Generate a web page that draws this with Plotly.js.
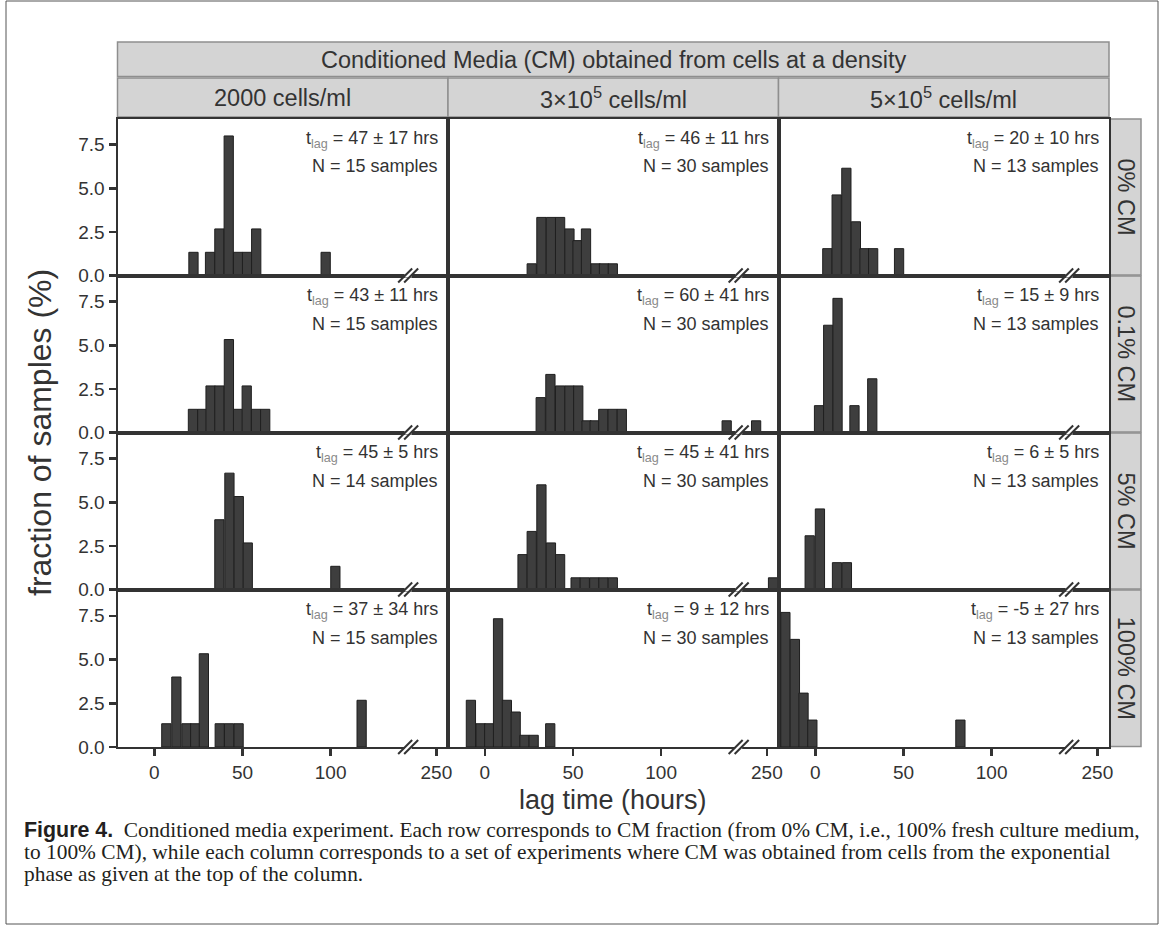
<!DOCTYPE html>
<html><head><meta charset="utf-8">
<script src="https://cdn.plot.ly/plotly-3.0.1.min.js"></script>
<style>html,body{margin:0;padding:0;background:#fff}</style>
</head><body><div id="chart" style="width:1165px;height:928px"></div>
<script>
// ---------------- data ----------------
const columnLabels = ['2000 cells/ml', '3×10<sup>5</sup> cells/ml', '5×10<sup>5</sup> cells/ml'];
const rowLabels = ['0% CM', '0.1% CM', '5% CM', '100% CM'];
const topLabel = 'Conditioned Media (CM) obtained from cells at a density';
const lagTicks = [0, 50, 100, 250];
const fracTicks = [0, 2.5, 5.0, 7.5];
const tlagText = [
  ['47 ± 17', '46 ± 11', '20 ± 10'],
  ['43 ± 11', '60 ± 41', '15 ± 9'],
  ['45 ± 5', '45 ± 41', '6 ± 5'],
  ['37 ± 34', '9 ± 12', '-5 ± 27']
];
const nSamples = [
  [15, 30, 13],
  [15, 30, 13],
  [14, 30, 13],
  [15, 30, 13]
];

// lag time bin centres (hours) and fraction of samples (%) per panel
const lag_0_2000 = [22.2, 31.6, 36.9, 42.2, 47.5, 52.6, 57.8, 97.2];
const frac_0_2000 = [1.33, 1.33, 2.67, 8.0, 1.33, 1.33, 2.67, 1.33];
const lag_0_3e5 = [26.6, 32.1, 37.5, 42.7, 48.0, 52.6, 57.4, 62.8, 67.6, 72.6];
const frac_0_3e5 = [0.67, 3.33, 3.33, 3.33, 2.67, 2.0, 2.67, 0.67, 0.67, 0.67];
const lag_0_5e5 = [6.8, 12.1, 17.6, 23.0, 27.9, 32.8, 47.5];
const frac_0_5e5 = [1.54, 4.62, 6.15, 3.08, 1.54, 1.54, 1.54];

const lag_01_2000 = [21.9, 27.2, 31.9, 36.9, 42.3, 47.5, 52.4, 57.7, 62.9];
const frac_01_2000 = [1.33, 1.33, 2.67, 2.67, 5.33, 1.33, 2.67, 1.33, 1.33];
const lag_01_3e5 = [31.7, 37.2, 42.7, 48.0, 53.0, 57.7, 62.3, 67.2, 72.5, 77.7, 137.2, 243.9];
const frac_01_3e5 = [2.0, 3.33, 2.67, 2.67, 2.67, 0.67, 0.67, 1.33, 1.33, 1.33, 0.67, 0.67];
const lag_01_5e5 = [2.1, 7.3, 12.6, 22.2, 32.3];
const frac_01_5e5 = [1.54, 6.15, 7.69, 1.54, 3.08];

const lag_5_2000 = [36.9, 42.6, 47.9, 53.0, 102.7];
const frac_5_2000 = [4.0, 6.67, 5.33, 2.67, 1.33];
const lag_5_3e5 = [21.4, 26.6, 32.1, 37.5, 42.7, 51.5, 56.7, 62.1, 67.3, 72.6, 253.5];
const frac_5_3e5 = [2.0, 3.33, 6.0, 2.67, 2.0, 0.67, 0.67, 0.67, 0.67, 0.67, 0.67];
const lag_5_5e5 = [-3.2, 2.6, 12.3, 17.9];
const frac_5_5e5 = [3.08, 4.62, 1.54, 1.54];

const lag_100_2000 = [6.8, 12.5, 18.2, 23.2, 28.1, 37.1, 42.4, 47.8, 117.6];
const frac_100_2000 = [1.33, 4.0, 1.33, 1.33, 5.33, 1.33, 1.33, 1.33, 2.67];
const lag_100_3e5 = [-7.9, -2.4, 2.5, 7.5, 12.5, 17.5, 22.5, 27.7, 37.1];
const frac_100_3e5 = [2.67, 1.33, 1.33, 7.33, 2.67, 2.0, 0.67, 0.67, 1.33];
const lag_100_5e5 = [-17.0, -11.6, -6.7, -1.7, 82.3];
const frac_100_5e5 = [7.69, 6.15, 3.08, 1.54, 1.54];

const panels = [
  [[lag_0_2000, frac_0_2000], [lag_0_3e5, frac_0_3e5], [lag_0_5e5, frac_0_5e5]],
  [[lag_01_2000, frac_01_2000], [lag_01_3e5, frac_01_3e5], [lag_01_5e5, frac_01_5e5]],
  [[lag_5_2000, frac_5_2000], [lag_5_3e5, frac_5_3e5], [lag_5_5e5, frac_5_5e5]],
  [[lag_100_2000, frac_100_2000], [lag_100_3e5, frac_100_3e5], [lag_100_5e5, frac_100_5e5]]
];

const captionLines = [
  '<b style="font-family:Liberation Sans">Figure 4.</b>  Conditioned media experiment. Each row corresponds to CM fraction (from 0% CM, i.e., 100% fresh culture medium,',
  'to 100% CM), while each column corresponds to a set of experiments where CM was obtained from cells from the exponential',
  'phase as given at the top of the column.'
];

// ---------------- layout helpers ----------------
const W = 1165, H = 928;
const BREAK_AT = 144;      // broken x axis: hours above this are shifted left
const BREAK_SHIFT = 90;
const disp = h => (h > BREAK_AT ? h - BREAK_SHIFT : h);
const XR = [-20.9, 166.6];
const YR = [0, 9.0];
const BW = 5.25;
const colX = [117.5, 448, 778.5, 1109];
const rowY = [118.5, 275.5, 432.5, 589.5, 747];
const px = v => v / W;
const py = v => 1 - v / H;
const INK = '#333333';
const FONT = 'Liberation Sans, Arial, sans-serif';

const traces = [];
const layout = {
  width: W, height: H,
  margin: {l: 0, r: 0, t: 0, b: 0},
  paper_bgcolor: '#ffffff', plot_bgcolor: '#ffffff',
  showlegend: false,
  font: {family: FONT, color: INK, size: 18},
  annotations: [], shapes: []
};

const breakFrac = (BREAK_AT - XR[0]) / (XR[1] - XR[0]);

for (let r = 0; r < 4; r++) {
  for (let c = 0; c < 3; c++) {
    const k = r * 3 + c + 1;
    const sx = k === 1 ? '' : String(k);
    const [lag, frac] = panels[r][c];
    traces.push({
      type: 'bar', x: lag.map(disp), y: frac, width: BW,
      xaxis: 'x' + sx, yaxis: 'y' + sx,
      marker: {color: '#3e3e3e', line: {color: '#1f1f1f', width: 1}},
      hoverinfo: 'skip'
    });
    layout['xaxis' + sx] = {
      domain: [px(colX[c]), px(colX[c + 1])], anchor: 'y' + sx,
      range: XR, tickvals: lagTicks.map(disp), ticktext: lagTicks.map(String),
      showticklabels: r === 3, ticks: r === 3 ? 'outside' : '',
      ticklen: 7, tickwidth: 2.5, tickcolor: INK,
      tickfont: {size: 19, color: INK},
      showline: true, mirror: true, linecolor: INK, linewidth: 2,
      showgrid: false, zeroline: false, fixedrange: true
    };
    layout['yaxis' + sx] = {
      domain: [py(rowY[r + 1]), py(rowY[r])], anchor: 'x' + sx,
      range: YR, tickvals: fracTicks, tickformat: '.1f',
      showticklabels: c === 0, ticks: c === 0 ? 'outside' : '',
      ticklen: 7, tickwidth: 2.5, tickcolor: INK,
      tickfont: {size: 19, color: INK},
      showline: true, mirror: true, linecolor: INK, linewidth: 2,
      showgrid: false, zeroline: false, fixedrange: true
    };
    // panel texts
    layout.annotations.push({
      xref: 'x' + sx + ' domain', yref: 'y' + sx + ' domain', x: 1, y: 1,
      xanchor: 'right', yanchor: 'middle', xshift: -8, yshift: -21, showarrow: false,
      text: 't<sub><span style="fill:#8a8a8a">lag</span></sub> = ' + tlagText[r][c] + ' hrs',
      font: {size: 18, color: INK}
    });
    layout.annotations.push({
      xref: 'x' + sx + ' domain', yref: 'y' + sx + ' domain', x: 1, y: 1,
      xanchor: 'right', yanchor: 'middle', xshift: -8, yshift: -48, showarrow: false,
      text: 'N = ' + nSamples[r][c] + ' samples',
      font: {size: 18, color: INK}
    });
    // axis break marks
    const bref = {xref: 'x' + sx + ' domain', yref: 'y' + sx + ' domain',
      xsizemode: 'pixel', ysizemode: 'pixel', xanchor: breakFrac, yanchor: 0, layer: 'above'};
    layout.shapes.push(Object.assign({type: 'line', x0: -3.5, x1: 3.5, y0: 0, y1: 0,
      line: {color: '#ffffff', width: 4}}, bref));
    layout.shapes.push(Object.assign({type: 'line', x0: -10, x1: 4, y0: -7, y1: 7,
      line: {color: INK, width: 2}}, bref));
    layout.shapes.push(Object.assign({type: 'line', x0: -4, x1: 10, y0: -7, y1: 7,
      line: {color: INK, width: 2}}, bref));
  }
}

// strips
const stripFill = '#d4d4d4', stripLine = '#8e8e8e';
const centred = {xref: 'paper', yref: 'paper', xanchor: 'center', yanchor: 'middle', showarrow: false};
layout.shapes.push({type: 'rect', xref: 'paper', yref: 'paper',
  x0: px(117.5), x1: px(1109), y0: py(76.5), y1: py(42),
  fillcolor: stripFill, line: {color: stripLine, width: 1.5}, layer: 'below'});
layout.annotations.push(Object.assign({x: px(613), y: py(59.5),
  text: topLabel, font: {size: 23.5, color: INK}}, centred));
for (let c = 0; c < 3; c++) {
  layout.shapes.push({type: 'rect', xref: 'paper', yref: 'paper',
    x0: px(colX[c]), x1: px(colX[c + 1]), y0: py(117), y1: py(78),
    fillcolor: stripFill, line: {color: stripLine, width: 1.5}, layer: 'below'});
  layout.annotations.push(Object.assign({
    x: px((colX[c] + colX[c + 1]) / 2), y: py(98),
    text: columnLabels[c], font: {size: 23.5, color: INK}}, centred));
}
for (let r = 0; r < 4; r++) {
  layout.shapes.push({type: 'rect', xref: 'paper', yref: 'paper',
    x0: px(1110), x1: px(1141), y0: py(rowY[r + 1] - 0.5), y1: py(rowY[r] + 0.5),
    fillcolor: stripFill, line: {color: stripLine, width: 1.5}, layer: 'below'});
  layout.annotations.push(Object.assign({
    x: px(1125.5), y: py((rowY[r] + rowY[r + 1]) / 2), textangle: 90,
    text: rowLabels[r], font: {size: 23.5, color: INK}}, centred));
}

// axis titles
layout.annotations.push(Object.assign({x: px(40), y: py(433),
  text: 'fraction of samples (%)', textangle: -90,
  font: {size: 32, color: INK}}, centred));
layout.annotations.push(Object.assign({x: px(613), y: py(800),
  text: 'lag time (hours)', font: {size: 27, color: INK}}, centred));

// caption
const capY = [830, 852, 874];
captionLines.forEach((t, i) => {
  layout.annotations.push({xref: 'paper', yref: 'paper', x: px(22), y: py(capY[i]),
    xanchor: 'left', yanchor: 'middle', align: 'left', showarrow: false, text: t,
    font: {family: 'Liberation Serif, Times New Roman, serif', size: 21.4, color: '#231f20'}});
});

// outer frame
layout.shapes.push({type: 'rect', xref: 'paper', yref: 'paper',
  x0: px(6), x1: px(1158), y0: py(924), y1: py(1),
  line: {color: '#555555', width: 1}, fillcolor: 'rgba(0,0,0,0)', layer: 'below'});

Plotly.newPlot('chart', traces, layout, {displayModeBar: false, staticPlot: true});
</script></body></html>
